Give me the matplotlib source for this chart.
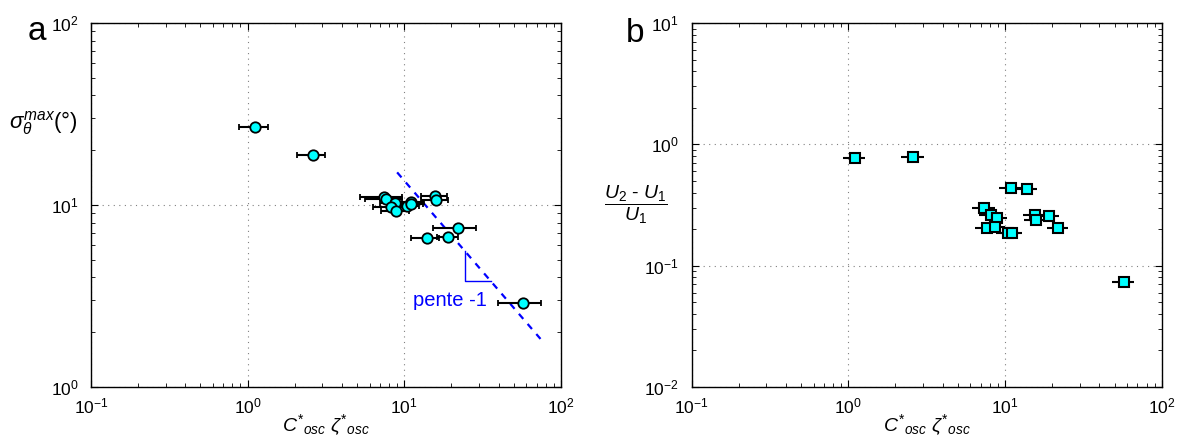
import numpy as np
import matplotlib
matplotlib.use("Agg")
import matplotlib.pyplot as plt

plt.rcParams['font.family'] = ['Liberation Sans', 'DejaVu Sans']
plt.rcParams['mathtext.fontset'] = 'custom'
plt.rcParams['mathtext.rm'] = 'Liberation Sans'
plt.rcParams['mathtext.it'] = 'Liberation Sans:italic'
plt.rcParams['mathtext.bf'] = 'Liberation Sans:bold'

# panel a : sigma_theta^max vs C*osc zeta*osc
a_x = [1.11, 2.60, 7.41, 7.64, 8.7, 8.2, 8.9, 10.35, 11.1, 11.1, 15.7, 15.9, 22.0, 19.1, 13.9, 57.4]
a_y = [26.9, 18.8, 11.1, 10.8, 10.2, 9.8, 9.3, 9.9, 10.4, 10.1, 11.2, 10.6, 7.5, 6.64, 6.6, 2.88]
a_xerr = [0.23, 0.54, 2.2, 2.0, 1.7, 1.9, 1.8, 2.0, 2.2, 2.0, 3.0, 3.2, 6.7, 3.0, 2.8, 17.5]

# slope -1 guide line
guide_x = [9.0, 74.0]
guide_c = 136.0
tri_x = [24.4, 24.4, 35.7]
tri_y = [5.57, 3.81, 3.81]

# panel b : (U2-U1)/U1 vs C*osc zeta*osc
b_x = [1.10, 2.60, 11.0, 13.9, 7.38, 8.1, 8.85, 7.64, 8.63, 10.5, 11.1, 15.5, 15.8, 19.0, 21.9, 57.5]
b_y = [0.776, 0.787, 0.440, 0.432, 0.298, 0.262, 0.249, 0.206, 0.208, 0.186, 0.186, 0.261, 0.239, 0.256, 0.205, 0.074]
b_xerr = [0.18, 0.42, 1.8, 2.2, 1.2, 1.3, 1.4, 1.2, 1.4, 1.7, 1.8, 2.5, 2.5, 3.0, 3.5, 9.2]

xlab = r'$C^{*}{}_{osc}\ \zeta^{*}{}_{osc}$'

fig = plt.figure(figsize=(11.8, 4.37), dpi=100)
ax1 = fig.add_axes([0.0771, 0.1144, 0.3983, 0.833])
ax2 = fig.add_axes([0.5861, 0.1144, 0.3984, 0.833])

def style(ax, ylim):
    ax.set_xscale('log')
    ax.set_yscale('log')
    ax.set_xlim(0.1, 100)
    ax.set_ylim(*ylim)
    ax.grid(True, which='major', linestyle=(0, (1, 4)), color='#808080', linewidth=0.8)
    ax.tick_params(which='both', direction='in', top=True, right=True, labelsize=12.5)
    ax.tick_params(which='major', length=5)
    ax.tick_params(which='minor', length=3)
    ax.tick_params(axis='x', which='major', pad=7)
    ax.tick_params(axis='y', which='major', pad=9)
    for s in ax.spines.values():
        s.set_linewidth(1.0)
    ax.set_xlabel(xlab, fontsize=14, labelpad=-3)

style(ax1, (1, 100))
ax1.errorbar(a_x, a_y, xerr=a_xerr, fmt='o', color='black', ecolor='black', elinewidth=1.5,
             capsize=2, capthick=1.5, mfc='cyan', mec='black', mew=1.3, ms=7.5, zorder=3)
gx = np.array(guide_x)
ax1.plot(gx, guide_c / gx, linestyle=(0, (3, 3)), color='blue', linewidth=1.6, zorder=2)
ax1.plot(tri_x, tri_y, color='blue', linewidth=1.0, zorder=2)
ax1.text(11.35, 3.0, 'pente -1', color='blue', fontsize=14.5, ha='left', va='center')
ax1.text(-0.102, 0.725, r'$\sigma_{\theta}^{max}(°)$', transform=ax1.transAxes,
         fontsize=16, ha='center', va='center')

style(ax2, (0.01, 10))
ax2.errorbar(b_x, b_y, xerr=b_xerr, fmt='s', color='black', ecolor='black', elinewidth=1.5,
             capsize=0, mfc='cyan', mec='black', mew=1.5, ms=6.5, zorder=3)
ax2.text(-0.118, 0.50, r'$\dfrac{U_2\ \mathrm{‐}\ U_1}{U_1}$', transform=ax2.transAxes,
         fontsize=14, ha='center', va='center')

fig.text(0.031, 0.927, 'a', fontsize=24, ha='center', va='center')
fig.text(0.538, 0.924, 'b', fontsize=24, ha='center', va='center')

fig.savefig('out.png', dpi=100)
